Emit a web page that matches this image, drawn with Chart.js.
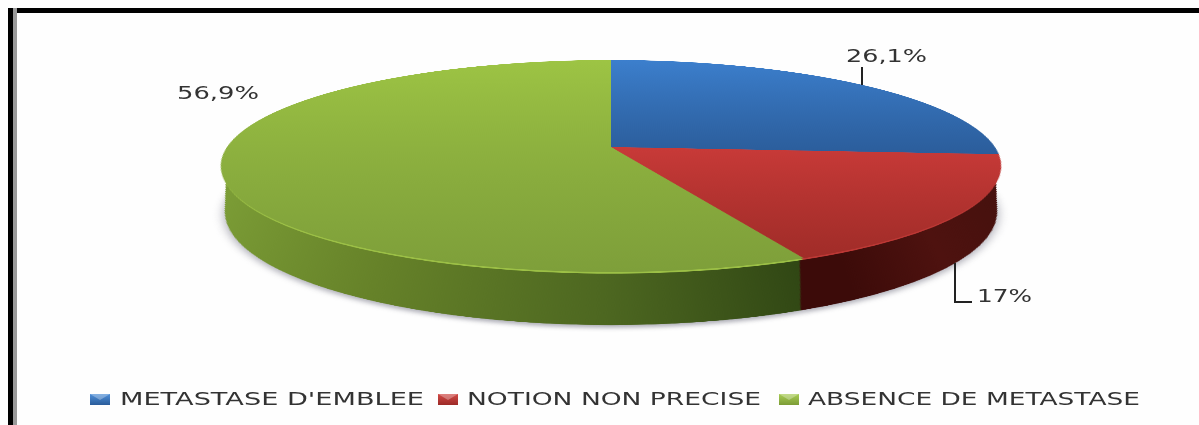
<!DOCTYPE html>
<html>
<head>
<meta charset="utf-8">
<script src="https://cdn.jsdelivr.net/npm/chart.js@4"></script>
<style>
  html, body { margin: 0; padding: 0; background: #fff; }
  #page { position: relative; width: 1199px; height: 425px; overflow: hidden; background: #fefefe; }
  #frameTop { position: absolute; left: 8px; top: 8px; right: 0; height: 5px; background: #000; }
  #frameLeft { position: absolute; left: 8px; top: 8px; bottom: 0; width: 5px; background: #000; border-right: 4px solid #9a9a9a; }
  #pieWrap { position: absolute; left: 0; top: 0; width: 1199px; height: 425px; overflow: hidden; filter: blur(0.5px); }
  #pie {
    position: absolute; left: 211px; top: -253px;
    transform-origin: 400px 400px;
    transform: perspective(2065px) rotateX(74.5deg);
  }
  #overlay { position: absolute; left: 0; top: 0; filter: blur(0.4px); }
</style>
</head>
<body>
<div id="page">
  <div id="frameTop"></div>
  <div id="frameLeft"></div>
  <div id="pieWrap"><canvas id="pie" width="800" height="1060"></canvas></div>
  <svg id="overlay" width="1199" height="425" xmlns="http://www.w3.org/2000/svg"></svg>
</div>
<script>
const categories = ['METASTASE D\'EMBLEE', 'NOTION NON PRECISE', 'ABSENCE DE METASTASE']
const values = [26.1, 17, 56.9]

const topColors = [['#3c7fcd', '#2b5d9b'], ['#c83a38', '#a02c28'], ['#9dc444', '#7e9f3a']]
const rimColors = ['#3f7fc8', '#bd3835', '#9cc046']
const wallColors = [
  [[0, '#1c3c66'], [1, '#1c3c66']],
  [[0, '#3c0b09'], [0.75, '#3c0b09'], [0.86, '#4e120f'], [1, '#43100d']],
  [[0, '#7fa138'], [0.25, '#668229'], [0.5, '#4c6620'], [0.72, '#2e4413'], [1, '#2e4413']],
]
const swatchColors = [['#4f8fd8', '#2a5c9a'], ['#d24a46', '#9c2a27'], ['#a8cc54', '#7c9c36']]

const RADIUS = 384
const WALL_DEPTH = 156
const WALL_TOP = 0.985
const WALL_BOTTOM = 0.917

function fmtLabel(v) {
  return v.toLocaleString('fr-FR') + '%'
}

function verticalGradient(ctx, y0, y1, stops) {
  const g = ctx.createLinearGradient(0, y0, 0, y1)
  g.addColorStop(0, stops[0])
  g.addColorStop(1, stops[1])
  return g
}

// side wall: the sectors stacked downward in the plane of the disc, before the top face is drawn
const wallPlugin = {
  id: 'wall',
  beforeDatasetsDraw(chart) {
    const ctx = chart.ctx
    const arcs = chart.getDatasetMeta(0).data
    const cx = arcs[0].x
    const cy = arcs[0].y
    const fills = wallColors.map(stops => {
      const g = ctx.createLinearGradient(cx - RADIUS, 0, cx + RADIUS, 0)
      stops.forEach(s => g.addColorStop(s[0], s[1]))
      return g
    })

    const paint = (shift, r, colors) => {
      arcs.forEach((arc, i) => {
        ctx.beginPath()
        ctx.moveTo(cx, cy + shift)
        ctx.arc(cx, cy + shift, r, arc.startAngle, arc.endAngle)
        ctx.closePath()
        ctx.fillStyle = colors[i]
        ctx.fill()
      })
    }

    ctx.save()
    ctx.shadowColor = 'rgba(80,80,100,0.45)'
    ctx.shadowBlur = 10
    ctx.shadowOffsetY = 6
    paint(WALL_DEPTH, RADIUS * WALL_BOTTOM, fills)
    ctx.restore()

    for (let s = WALL_DEPTH; s >= 0; s -= 2) {
      const f = s / WALL_DEPTH
      paint(s, RADIUS * (WALL_TOP + (WALL_BOTTOM - WALL_TOP) * f), fills)
    }
    paint(6, RADIUS * 0.995, rimColors)
  },
}

const pieCanvas = document.getElementById('pie')
const pieCtx = pieCanvas.getContext('2d')

new Chart(pieCanvas, {
  type: 'pie',
  data: {
    labels: categories,
    datasets: [{
      data: values,
      backgroundColor: [
        verticalGradient(pieCtx, 16, 426, topColors[0]),
        verticalGradient(pieCtx, 400, 750, topColors[1]),
        verticalGradient(pieCtx, 16, 784, topColors[2]),
      ],
      borderWidth: 0,
    }],
  },
  options: {
    responsive: false,
    animation: false,
    radius: RADIUS,
    layout: { padding: { bottom: 260 } },
    plugins: {
      legend: { display: false },
      tooltip: { enabled: false },
    },
  },
  plugins: [wallPlugin],
})

// labels, leader lines and legend sit outside the tilted canvas
const NS = 'http://www.w3.org/2000/svg'
const svg = document.getElementById('overlay')

function svgEl(name, attrs, text) {
  const el = document.createElementNS(NS, name)
  Object.entries(attrs).forEach(([k, v]) => el.setAttribute(k, v))
  if (text) el.textContent = text
  svg.appendChild(el)
  return el
}

function svgText(str, x0, x1, baseline, size) {
  svgEl('text', {
    x: x0, y: baseline, textLength: x1 - x0, lengthAdjust: 'spacingAndGlyphs',
    'font-family': 'DejaVu Sans', 'font-size': size, fill: '#333',
  }, str)
}

const labelBoxes = [[846, 927, 62], [977, 1032, 302], [177, 259, 99]]
values.forEach((v, i) => svgText(fmtLabel(v), labelBoxes[i][0], labelBoxes[i][1], labelBoxes[i][2], 18))

svgEl('path', { d: 'M862 67V85', stroke: '#222', 'stroke-width': 2, fill: 'none' })
svgEl('path', { d: 'M955 263V302H972', stroke: '#222', 'stroke-width': 2, fill: 'none' })

const legendBoxes = [[90, 110, 120, 424], [438, 458, 467, 761], [779, 799, 808, 1140]]
const defs = svgEl('defs', {})
categories.forEach((name, i) => {
  const [sx0, sx1, tx0, tx1] = legendBoxes[i]
  const grad = document.createElementNS(NS, 'linearGradient')
  grad.setAttribute('id', 'sw' + i)
  grad.setAttribute('x2', '0')
  grad.setAttribute('y2', '1')
  swatchColors[i].forEach((c, k) => {
    const stop = document.createElementNS(NS, 'stop')
    stop.setAttribute('offset', k)
    stop.setAttribute('stop-color', c)
    grad.appendChild(stop)
  })
  defs.appendChild(grad)
  svgEl('rect', { x: sx0, y: 394, width: sx1 - sx0, height: 11, fill: 'url(#sw' + i + ')' })
  // the little envelope highlight on each swatch
  svgEl('path', { d: `M${sx0} 394L${(sx0 + sx1) / 2} 400L${sx1} 394Z`, fill: '#fff', 'fill-opacity': 0.3 })
  svgText(name, tx0, tx1, 405, 17.5)
})
</script>
</body>
</html>
